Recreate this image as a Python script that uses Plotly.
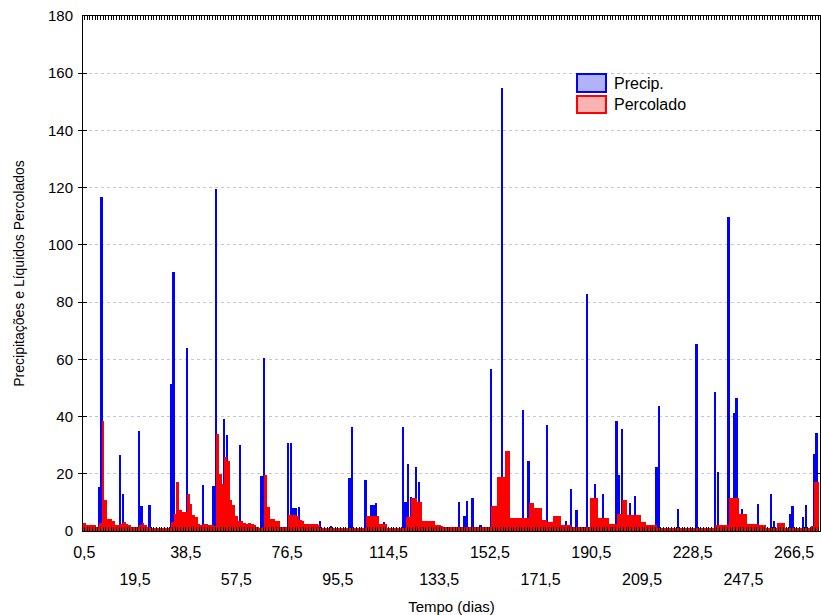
import plotly.graph_objects as go

# Daily values, day index 0..275 (x positions 0.5 ... 275.5)
precip = [
    0, 0, 0, 0, 0, 0, 15.4, 116.6, 0, 0,
    0, 0, 0, 0, 26.6, 13.0, 0, 0, 0, 0,
    0, 35.0, 8.6, 0, 0, 9.0, 0, 0, 0, 0,
    0, 0, 0, 51.3, 90.4, 0, 0, 0, 0, 63.8,
    0, 0, 0, 0, 0, 16.2, 0, 0, 0, 15.6,
    119.5, 0, 0, 39.3, 33.6, 0, 0, 0, 0, 30.2,
    0, 0, 0, 0, 0, 0, 0, 19.2, 60.3, 0,
    0, 0, 0, 0, 0, 0, 0, 30.6, 30.6, 8.0,
    8.0, 8.3, 0, 0, 0, 0, 0, 0, 0, 3.6,
    0, 0, 0, 1.8, 0, 0, 0, 0, 0, 0,
    18.5, 36.3, 0, 0, 0, 0, 17.7, 0, 9.0, 9.0,
    9.9, 0, 0, 3.1, 0, 0, 0, 0, 0, 0,
    36.5, 10.1, 23.3, 12.0, 0, 22.3, 17.3, 0, 0, 0,
    0, 0, 0, 0, 0, 0, 0, 0, 0, 0,
    0, 10.1, 0, 5.2, 10.6, 0, 11.4, 0, 0, 2.2,
    0, 0, 0, 56.5, 0, 0, 0, 154.7, 0, 0,
    0, 0, 0, 0, 0, 42.4, 0, 24.4, 0, 0,
    0, 0, 0, 0, 37.1, 0, 0, 0, 0, 0,
    0, 3.4, 0, 14.7, 0, 7.4, 0, 0, 0, 83.0,
    0, 0, 16.5, 0, 0, 13.1, 0, 0, 0, 0,
    38.6, 19.4, 35.5, 11.0, 0, 9.9, 0, 12.4, 0, 0,
    0, 0, 0, 0, 0, 22.3, 43.8, 0, 0, 0,
    0, 0, 0, 7.8, 0, 0, 0, 0, 0, 0,
    65.2, 0, 0, 0, 0, 0, 0, 48.5, 20.6, 0,
    0, 0, 109.6, 0, 41.4, 46.4, 0, 7.8, 0, 0,
    0, 0, 0, 9.4, 0, 0, 0, 0, 12.9, 3.4,
    0, 0, 0, 0, 0, 5.9, 8.7, 0, 0, 0,
    4.9, 9.2, 0, 0, 27.0, 34.2,
]

percolado = [
    2.8, 2.2, 2.1, 2.0, 2.0, 1.5, 2.8, 38.3, 10.7, 4.3,
    4.1, 3.4, 2.2, 2.0, 2.6, 3.1, 2.3, 2.0, 1.4, 1.4,
    1.4, 2.2, 2.7, 2.2, 1.4, 1.0, 1.0, 1.0, 1.0, 1.0,
    1.0, 1.0, 1.0, 3.1, 6.0, 17.1, 7.2, 6.6, 6.6, 12.8,
    9.5, 5.5, 4.9, 2.3, 2.2, 2.3, 2.6, 2.0, 2.0, 1.8,
    34.0, 20.0, 16.3, 25.8, 24.4, 11.0, 9.0, 5.1, 3.5, 3.5,
    2.9, 2.6, 2.8, 2.4, 2.0, 1.4, 1.2, 1.5, 19.4, 8.3,
    4.3, 4.1, 3.6, 3.4, 1.5, 1.5, 1.5, 5.5, 5.5, 5.5,
    5.2, 3.7, 3.6, 2.4, 2.4, 2.4, 2.4, 2.4, 2.0, 1.2,
    1.2, 1.2, 1.2, 1.2, 1.2, 1.2, 1.2, 1.2, 1.2, 1.2,
    1.0, 1.0, 1.0, 1.0, 1.0, 1.0, 5.1, 5.1, 5.1, 5.1,
    5.1, 2.4, 2.4, 2.4, 1.2, 1.2, 1.2, 1.2, 1.2, 1.2,
    1.2, 4.9, 4.9, 11.7, 11.7, 10.3, 10.3, 3.4, 3.4, 3.4,
    3.4, 3.4, 2.0, 2.0, 1.7, 1.3, 1.3, 1.3, 1.3, 1.3,
    1.3, 1.3, 1.3, 1.3, 1.3, 1.3, 1.3, 1.3, 1.3, 1.3,
    1.3, 1.3, 1.3, 8.6, 8.6, 18.8, 18.8, 18.8, 28.1, 28.1,
    4.5, 4.5, 4.5, 4.5, 4.5, 4.5, 4.5, 9.8, 9.8, 8.1,
    8.1, 8.1, 3.7, 3.7, 3.1, 3.1, 5.2, 5.2, 5.2, 2.0,
    2.0, 2.0, 2.0, 1.5, 1.5, 1.5, 1.5, 1.5, 1.5, 1.5,
    11.7, 11.7, 11.7, 4.6, 4.6, 4.6, 4.6, 2.3, 2.3, 2.3,
    5.9, 5.9, 10.8, 10.8, 5.7, 5.7, 5.7, 5.7, 5.7, 3.2,
    3.2, 2.0, 2.0, 2.0, 2.0, 1.2, 1.2, 1.2, 1.2, 1.2,
    1.2, 1.2, 1.2, 1.2, 1.2, 1.2, 1.2, 1.2, 1.2, 1.2,
    1.2, 1.2, 1.2, 1.2, 1.2, 1.2, 1.2, 2.2, 2.2, 2.2,
    2.2, 2.2, 11.7, 11.7, 11.7, 11.7, 5.8, 5.8, 5.8, 2.3,
    2.3, 2.3, 2.3, 2.0, 2.0, 2.0, 1.2, 1.2, 1.2, 1.2,
    2.9, 2.9, 2.9, 1.0, 1.0, 1.0, 1.0, 1.0, 1.0, 1.0,
    1.0, 1.0, 1.0, 1.7, 17.3, 17.3,
]

days = [i + 0.5 for i in range(len(precip))]

tick_row1 = [0.5, 38.5, 76.5, 114.5, 152.5, 190.5, 228.5, 266.5]
tick_row1_text = ["0,5", "38,5", "76,5", "114,5", "152,5", "190,5", "228,5", "266,5"]
tick_row2 = [19.5, 57.5, 95.5, 133.5, 171.5, 209.5, 247.5]
tick_row2_text = ["19,5", "57,5", "95,5", "133,5", "171,5", "209,5", "247,5"]

series_names = ["Precip.", "Percolado"]

FONT = "Liberation Sans, Arial, sans-serif"

fig = go.Figure()
fig.add_trace(go.Bar(x=days, y=precip, name=series_names[0], width=0.7, offset=-0.85,
                     xaxis="x", yaxis="y",
                     marker=dict(color="#0000FF", line=dict(width=0))))
fig.add_trace(go.Bar(x=days, y=percolado, name=series_names[1], width=1.0, offset=-0.5,
                     xaxis="x2", yaxis="y",
                     marker=dict(color="#FF0000", line=dict(width=0))))

xr = [0, 276.2]
fig.update_layout(
    width=821, height=615,
    margin=dict(l=83, r=1, t=16, b=84),
    plot_bgcolor="white", paper_bgcolor="white",
    barmode="overlay", bargap=0, showlegend=False,
    font=dict(family=FONT, size=15, color="black"),
    xaxis=dict(
        range=xr, tickmode="array", tickvals=tick_row1, ticktext=tick_row1_text,
        tickfont=dict(size=16),
        ticks="inside", ticklen=4, tickcolor="black", showline=True, linecolor="black",
        linewidth=1, mirror="allticks", showgrid=False, zeroline=False,
        ticklabelstandoff=7, automargin=False,
        minor=dict(tick0=0.5, dtick=1, ticks="inside", ticklen=4, tickcolor="black", showgrid=False),
        title=dict(text="Tempo (dias)", font=dict(size=15), standoff=44),
    ),
    xaxis2=dict(
        range=xr, overlaying="x", anchor="y", side="bottom", tickmode="array",
        tickvals=tick_row2, ticktext=tick_row2_text, tickfont=dict(size=16),
        ticks="", showline=False,
        showgrid=False, zeroline=False, ticklabelstandoff=37, automargin=False,
    ),
    yaxis=dict(
        range=[0, 180], dtick=20, ticks="inside", ticklen=4, tickcolor="black",
        showline=True, linecolor="black", linewidth=1, mirror="allticks",
        showgrid=True, gridcolor="#c8c8c8", griddash="dot", gridwidth=1, zeroline=False,
        ticklabelstandoff=6, automargin=False,
        title=dict(text="Precipitações e Líquidos Percolados", font=dict(size=14), standoff=20),
    ),
)

# legend drawn as boxes + text in plot-area (paper) coordinates
pw, ph = 737.0, 515.0
def px2x(p):
    return (p - 83) / pw
def py2y(p):
    return (531 - p) / ph

legend_items = [
    (series_names[0], "#0000FF", "rgb(178,178,250)", 74, 92, 83),
    (series_names[1], "#FF0000", "rgb(250,178,178)", 96, 113, 105),
]
for name, edge, fill, top, bot, mid in legend_items:
    fig.add_shape(type="rect", xref="paper", yref="paper",
                  x0=px2x(577), x1=px2x(606), y0=py2y(bot), y1=py2y(top),
                  line=dict(color=edge, width=2), fillcolor=fill)
    fig.add_annotation(xref="paper", yref="paper", x=px2x(612), y=py2y(mid),
                       text=name, showarrow=False, xanchor="left", yanchor="middle",
                       font=dict(size=16, family=FONT, color="black"))

fig.write_html("out.html")
